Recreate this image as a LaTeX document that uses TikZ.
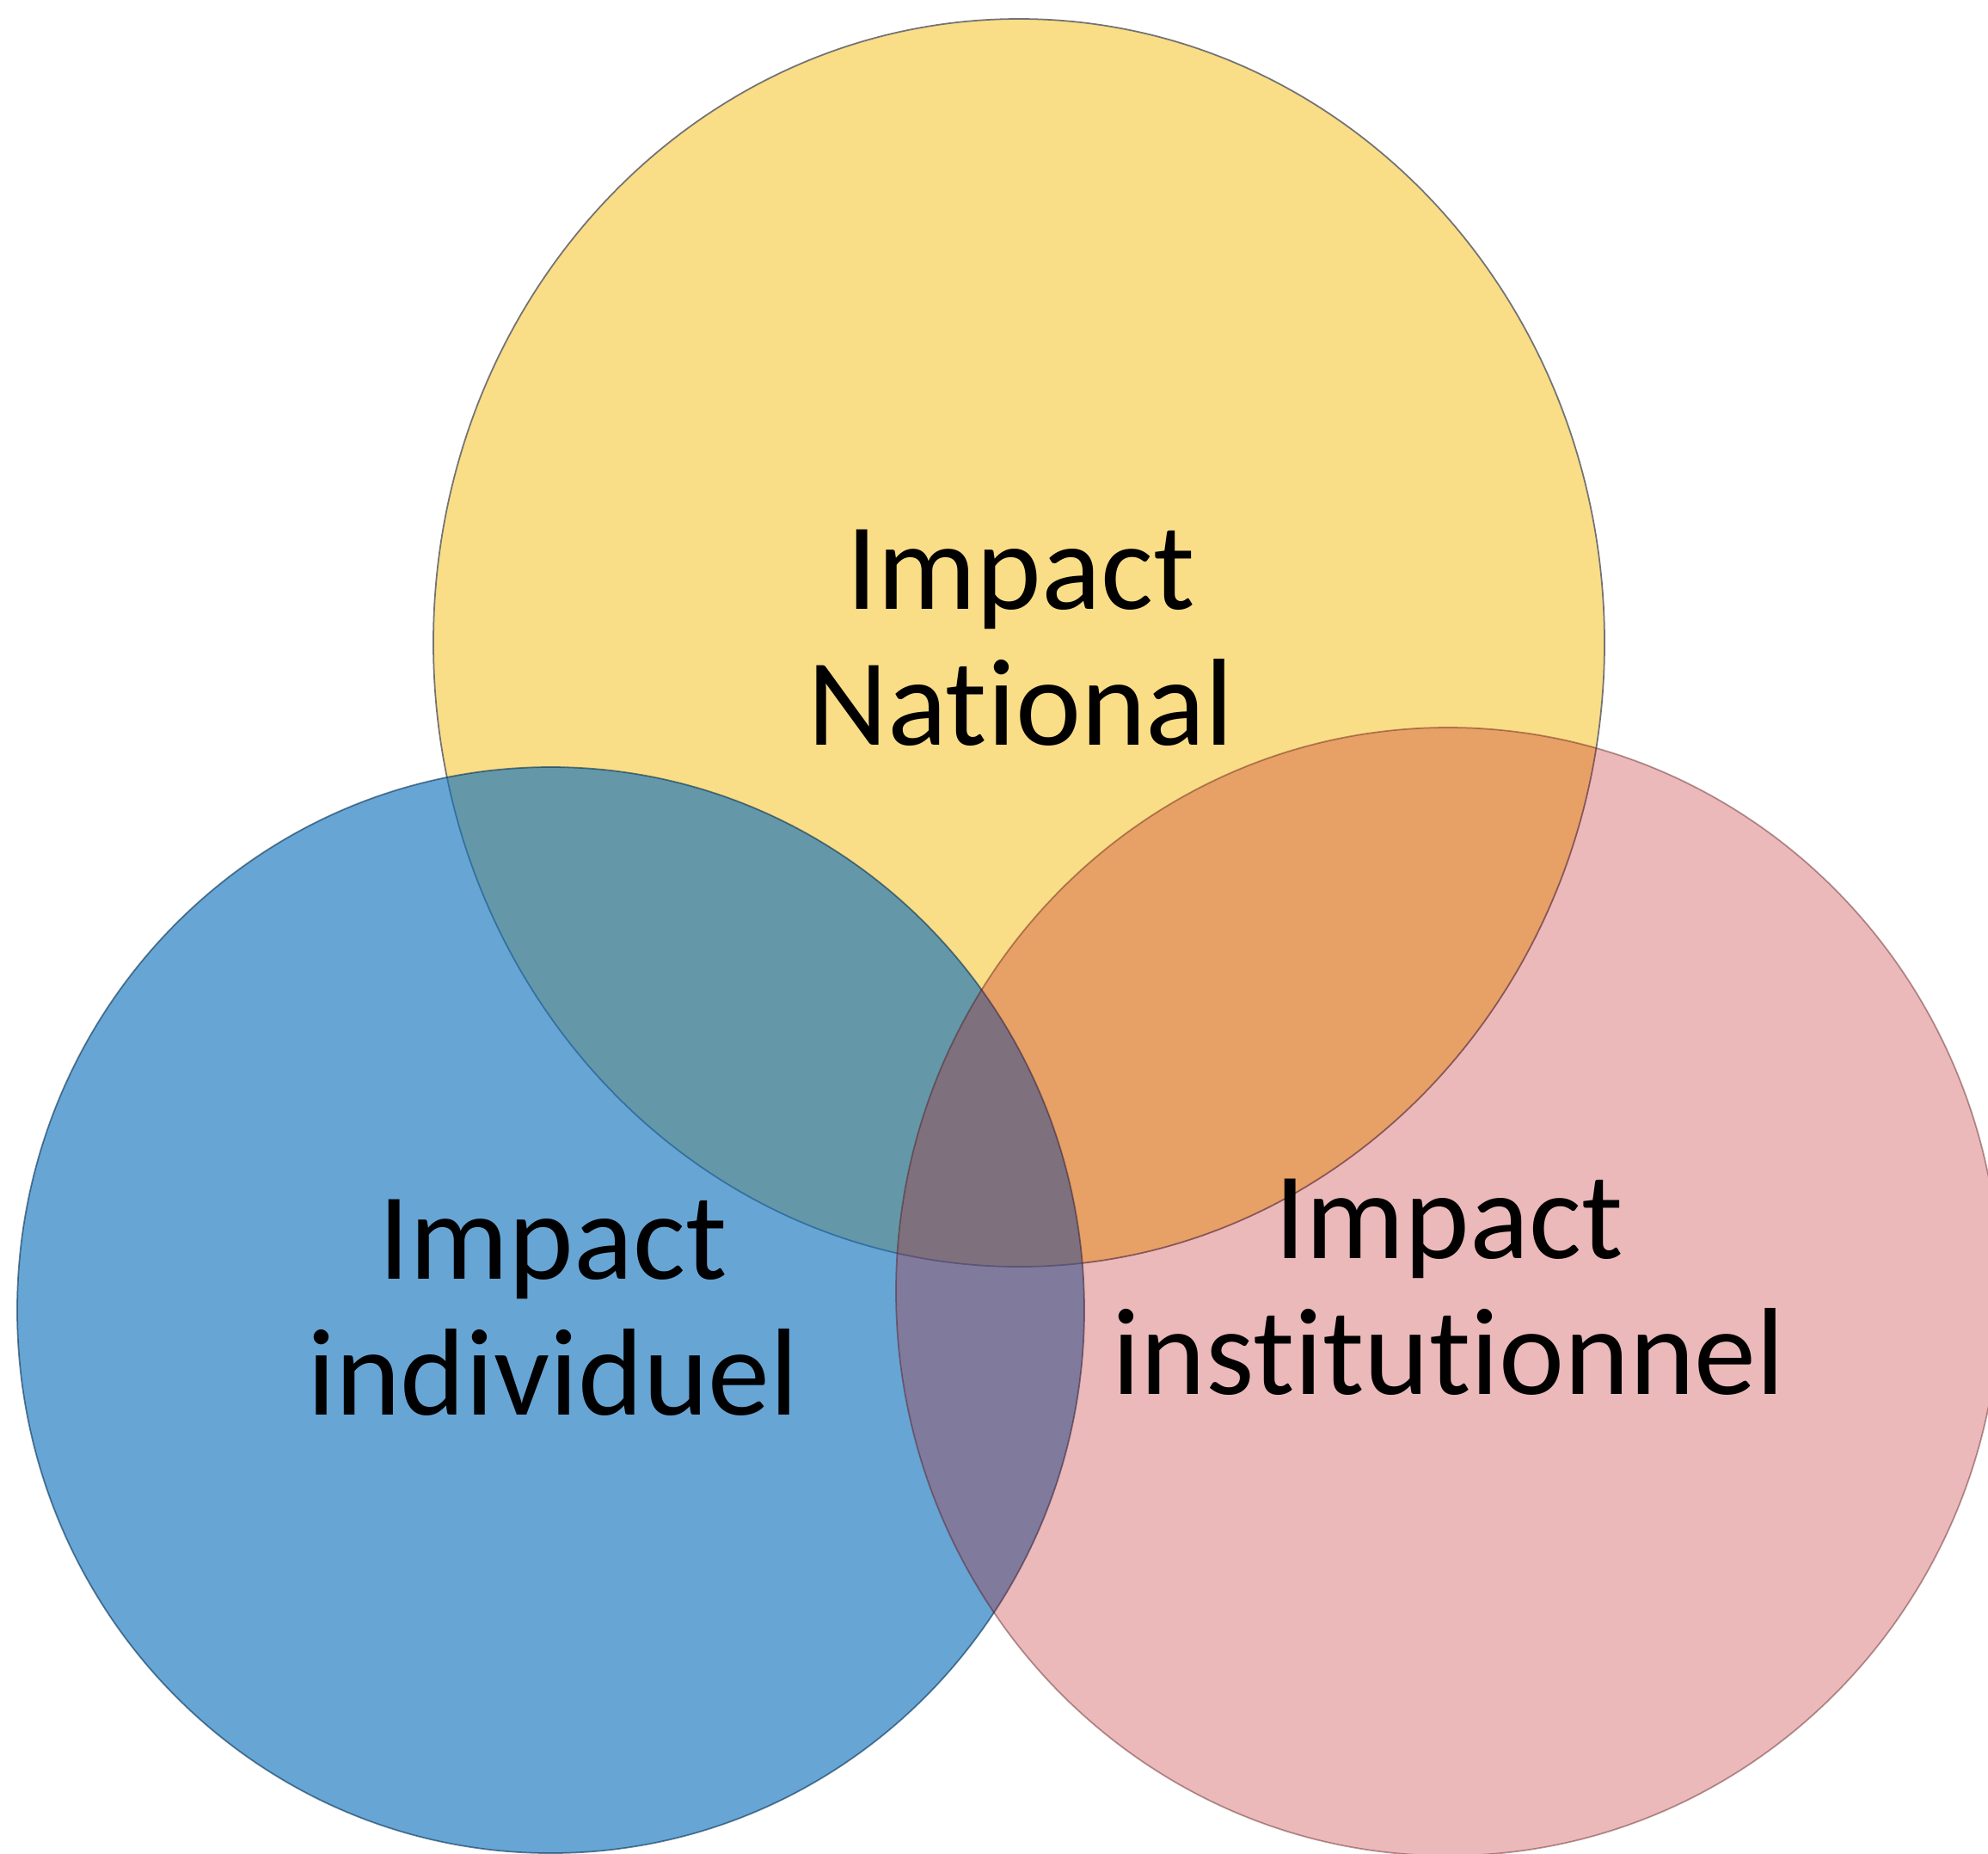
\documentclass[tikz,border=0pt]{standalone}
\usepackage{fontspec}
\setmainfont{Carlito}[Ligatures=NoCommon]
\usepackage{tikz}
\definecolor{myellow}{RGB}{250, 221, 135}
\definecolor{mblue}{RGB}{14, 112, 188}
\definecolor{mpink}{RGB}{188, 22, 25}

\begin{document}
\begin{tikzpicture}[
    impact/.style={align=center, font=\fontsize{41}{45}\selectfont}
  ]
  \useasboundingbox (0, 0) rectangle (23.12, -21.55);
  \clip (0, 0) rectangle (23.12, -21.55);

  % three circles, yellow at the back
  \draw [fill=myellow, draw=black!55, line width=0.5pt] (11.85, -7.475) ellipse [x radius=6.81, y radius=7.255];
  \draw [fill=mblue, fill opacity=0.63, draw=mblue!45!black, draw opacity=0.6, line width=0.5pt] (6.405, -15.235) ellipse [x radius=6.205, y radius=6.315];
  \draw [fill=mpink, fill opacity=0.3, draw=mpink!40!black, draw opacity=0.4, line width=0.5pt] (16.84, -15.02) ellipse [x radius=6.42, y radius=6.56];

  \node (national) at (11.87, -7.42) [impact] {Impact\\National};
  \node (individuel) at (6.43, -15.21) [impact] {Impact\\individuel};
  \node (institutionnel) at (16.85, -14.97) [impact] {Impact\\institutionnel};
\end{tikzpicture}
\end{document}
